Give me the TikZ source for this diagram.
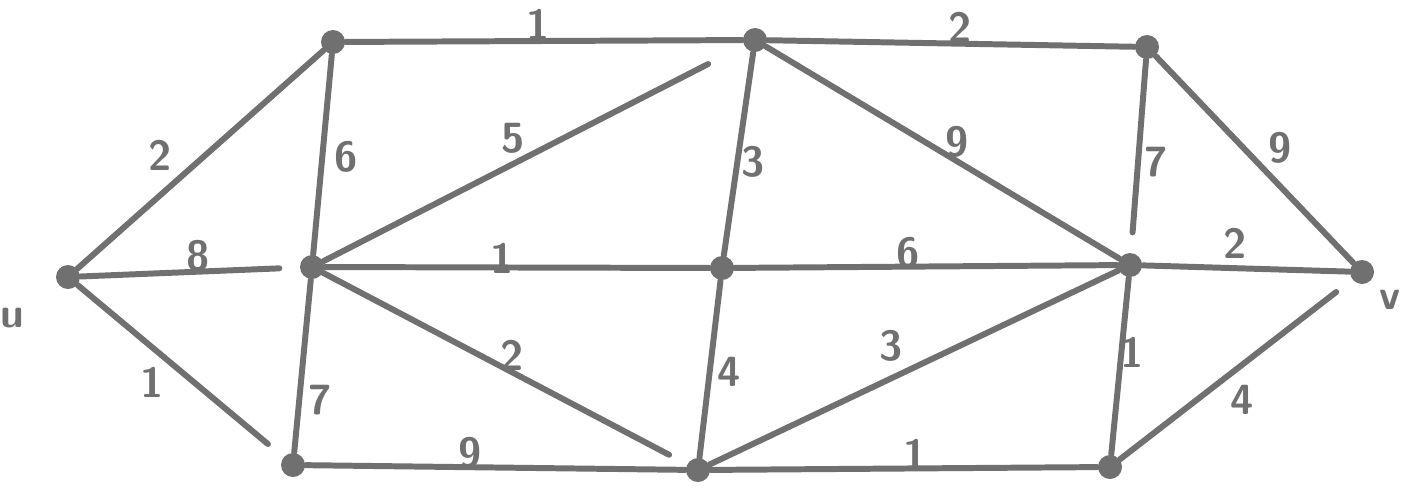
\documentclass[tikz,border=0pt]{standalone}
\usepackage{xcolor}
\definecolor{pen}{RGB}{112,112,112}
\begin{document}
\begin{tikzpicture}[every node/.style={font=\sffamily\bfseries\large, text=pen},
  vertex/.style={circle, fill=pen, inner sep=0pt, minimum size=0.24cm},
  edge/.style={draw=pen, line width=1.7pt, line cap=round}]
  \useasboundingbox (0,0) rectangle (14.04,4.87);

  % vertices
  \node[vertex] (u) at (0.68,2.10) {};
  \node[vertex] (a) at (3.33,4.45) {};
  \node[vertex] (b) at (7.55,4.47) {};
  \node[vertex] (c) at (11.47,4.40) {};
  \node[vertex] (d) at (3.12,2.20) {};
  \node[vertex] (e) at (7.22,2.19) {};
  \node[vertex] (f) at (11.30,2.22) {};
  \node[vertex] (v) at (13.62,2.15) {};
  \node[vertex] (g) at (2.93,0.22) {};
  \node[vertex] (h) at (6.98,0.17) {};
  \node[vertex] (i) at (11.10,0.20) {};

  \node (ulabel) at (0.12,1.69) {u};
  \node (vlabel) at (13.90,1.87) {v};

  % edges
  \draw[edge] (u) -- (a);
  \draw[edge, shorten >=0.2cm] (u) -- (d);
  \draw[edge, shorten >=0.2cm] (u) -- (g);
  \draw[edge] (a) -- (b);
  \draw[edge] (a) -- (d);
  \draw[edge, shorten >=0.4cm] (d) -- (b);
  \draw[edge] (b) -- (c);
  \draw[edge] (b) -- (e);
  \draw[edge] (b) -- (f);
  \draw[edge, shorten >=0.2cm] (c) -- (f);
  \draw[edge] (c) -- (v);
  \draw[edge] (d) -- (e);
  \draw[edge] (e) -- (f);
  \draw[edge] (f) -- (v);
  \draw[edge] (d) -- (g);
  \draw[edge, shorten >=0.2cm] (d) -- (h);
  \draw[edge] (e) -- (h);
  \draw[edge] (h) -- (f);
  \draw[edge] (g) -- (h);
  \draw[edge] (h) -- (i);
  \draw[edge] (f) -- (i);
  \draw[edge, shorten >=0.2cm] (i) -- (v);

  % weights
  \node (wua) at (1.60,3.32) {2};
  \node (wud) at (1.98,2.31) {8};
  \node (wug) at (1.52,1.05) {1};
  \node (wab) at (5.38,4.63) {1};
  \node (wad) at (3.46,3.30) {6};
  \node (wdb) at (5.13,3.49) {5};
  \node (wbc) at (9.60,4.60) {2};
  \node (wbe) at (7.53,3.25) {3};
  \node (wbf) at (9.57,3.45) {9};
  \node (wcf) at (11.56,3.25) {7};
  \node (wcv) at (12.80,3.39) {9};
  \node (wde) at (5.02,2.29) {1};
  \node (wef) at (9.08,2.34) {6};
  \node (wfv) at (12.35,2.44) {2};
  \node (wdg) at (3.20,0.87) {7};
  \node (wdh) at (5.12,1.32) {2};
  \node (weh) at (7.29,1.15) {4};
  \node (whf) at (8.91,1.41) {3};
  \node (wgh) at (4.70,0.34) {9};
  \node (whi) at (9.15,0.33) {1};
  \node (wfi) at (11.32,1.35) {1};
  \node (wiv) at (12.42,0.87) {4};
\end{tikzpicture}
\end{document}
